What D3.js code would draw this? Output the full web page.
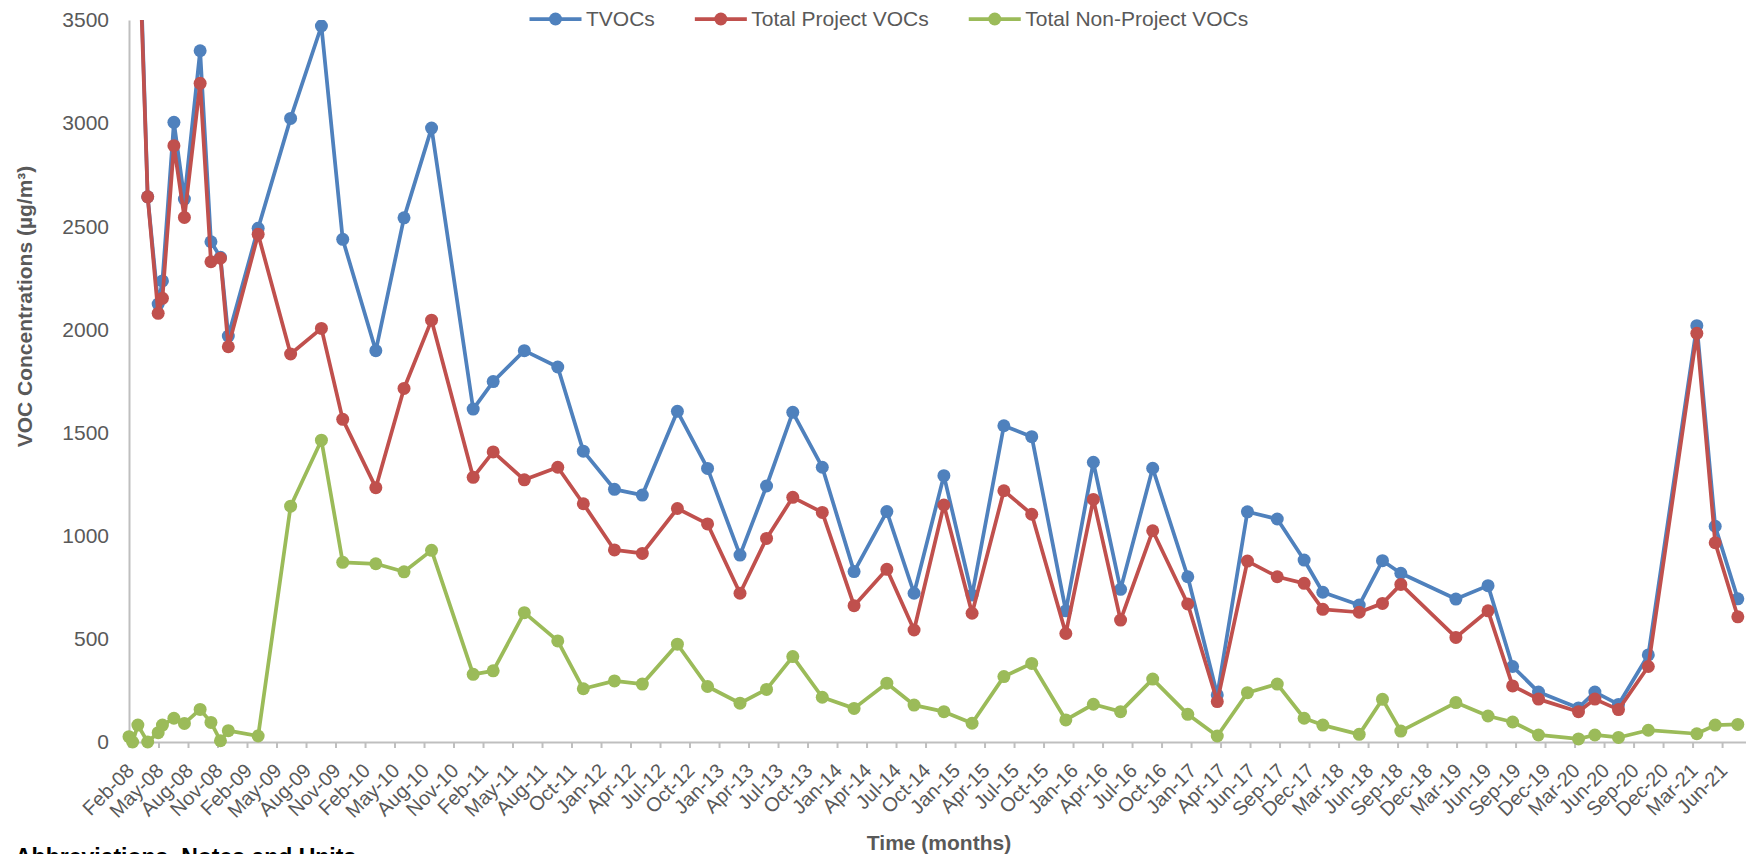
<!DOCTYPE html>
<html><head><meta charset="utf-8">
<script src="https://cdn.jsdelivr.net/npm/d3@7"></script>
<style>
html,body{margin:0;padding:0;background:#fff;}
svg{display:block;font-family:"Liberation Sans",Arial,Helvetica,sans-serif;}
</style></head><body>
<svg id="chart" width="1746" height="854"></svg>
<script>
// ---------- DATA ----------
const sampleDates = [
 "2008-02-18","2008-02-29","2008-03-16","2008-04-15","2008-05-17","2008-05-30","2008-07-04","2008-08-05","2008-09-22","2008-10-25",
 "2008-11-23","2008-12-17","2009-03-18","2009-06-25","2009-09-27","2009-12-01","2010-03-12","2010-06-06","2010-08-29","2011-01-03",
 "2011-03-05","2011-06-08","2011-09-18","2011-12-05","2012-03-09","2012-06-02","2012-09-17","2012-12-18","2013-03-27","2013-06-16",
 "2013-09-04","2013-12-03","2014-03-10","2014-06-18","2014-09-09","2014-12-09","2015-03-05","2015-06-10","2015-09-03","2015-12-16",
 "2016-03-09","2016-05-31","2016-09-06","2016-12-22","2017-03-22","2017-06-22","2017-09-21","2017-12-12","2018-02-07","2018-05-29",
 "2018-08-08","2018-10-03","2019-03-20","2019-06-26","2019-09-09","2019-11-27","2020-03-28","2020-05-17","2020-07-28","2020-10-27",
 "2021-03-24","2021-05-19","2021-07-27"
];
const tvocs = [
 5426,4800,4152,2643,2123,2235,3004,2632,3351,2425,
 2350,1968,2490,3023,3471,2437,1897,2541,2976,1614,
 1747,1897,1818,1410,1225,1197,1603,1326,906,1241,
 1598,1332,826,1117,721,1291,712,1533,1480,636,
 1356,740,1327,801,228,1116,1081,882,726,664,
 879,818,693,758,366,242,165,242,182,422,
 2018,1046,694
];
const projectVOCs = [
 5400,4800,4070,2643,2078,2151,2891,2543,3193,2328,
 2345,1916,2461,1881,2005,1564,1233,1714,2045,1283,
 1406,1271,1332,1155,931,914,1132,1057,721,987,
 1186,1113,661,837,543,1149,624,1218,1104,526,
 1176,591,1024,669,196,877,801,769,643,629,
 672,764,507,636,272,208,147,208,157,366,
 1981,966,607
];
const nonProjectVOCs = [
 26,0,82,0,45,82,115,90,158,95,
 6,55,29,1143,1463,871,864,825,929,328,
 345,627,490,258,296,281,474,269,188,255,
 414,217,163,285,179,147,91,317,381,107,
 183,147,305,134,29,239,281,115,82,37,
 207,53,191,126,97,34,15,34,22,57,
 40,82,85
];
const seriesNames = ["TVOCs","Total Project VOCs","Total Non-Project VOCs"];
const seriesColors = ["#4F81BD","#C0504D","#9BBB59"];
const tickLabels = [
 "Feb-08","May-08","Aug-08","Nov-08","Feb-09","May-09","Aug-09","Nov-09","Feb-10","May-10","Aug-10","Nov-10",
 "Feb-11","May-11","Aug-11","Oct-11","Jan-12","Apr-12","Jul-12","Oct-12","Jan-13","Apr-13","Jul-13","Oct-13",
 "Jan-14","Apr-14","Jul-14","Oct-14","Jan-15","Apr-15","Jul-15","Oct-15","Jan-16","Apr-16","Jul-16","Oct-16",
 "Jan-17","Apr-17","Jun-17","Sep-17","Dec-17","Mar-18","Jun-18","Sep-18","Dec-18","Mar-19","Jun-19","Sep-19",
 "Dec-19","Mar-20","Jun-20","Sep-20","Dec-20","Mar-21","Jun-21"
];
const axisStart = "2008-02-18";
const axisEnd = "2021-08-21";
const tickStepDays = 90;
const yTicks = [0,500,1000,1500,2000,2500,3000,3500];
const yMax = 3500;

// ---------- LAYOUT ----------
const W = 1746, H = 854;
const plot = {left:129, right:1746, top:20, bottom:742};
const parse = d3.utcParse("%Y-%m-%d");
const x = d3.scaleUtc().domain([parse(axisStart), parse(axisEnd)]).range([plot.left, plot.right]);
const y = d3.scaleLinear().domain([0, yMax]).range([plot.bottom, plot.top]);
const svg = d3.select("#chart");
const FONT_GRAY = "#595959", AXIS_GRAY = "#BFBFBF";

svg.append("defs").append("clipPath").attr("id","clip")
  .append("rect").attr("x",0).attr("y",plot.top).attr("width",W).attr("height",H-plot.top);

// X axis
const tickDates = tickLabels.map((l,i)=>d3.utcDay.offset(parse(axisStart), i*tickStepDays));
const xAxis = d3.axisBottom(x).tickValues(tickDates).tickSizeInner(6).tickSizeOuter(0)
  .tickFormat((d,i)=>tickLabels[i]);
const gx = svg.append("g").attr("transform",`translate(0,${plot.bottom})`).call(xAxis);
gx.select(".domain").attr("stroke",AXIS_GRAY).attr("stroke-width",2);
gx.selectAll(".tick line").attr("stroke",AXIS_GRAY).attr("stroke-width",2);
gx.selectAll(".tick text")
  .attr("x",0).attr("y",0).attr("dy","0.35em")
  .attr("text-anchor","end")
  .attr("transform","translate(1,25) rotate(-45)")
  .attr("font-size",20).attr("fill",FONT_GRAY).attr("font-family",null);

// Y axis
const yAxis = d3.axisLeft(y).tickValues(yTicks).tickSize(0).tickPadding(20).tickFormat(d3.format("d"));
const gy = svg.append("g").attr("transform",`translate(${plot.left},0)`).call(yAxis);
gy.select(".domain").attr("stroke",AXIS_GRAY).attr("stroke-width",2);
gy.selectAll(".tick text").attr("font-size",21).attr("fill",FONT_GRAY).attr("font-family",null);

// Series
const seriesData = [tvocs, projectVOCs, nonProjectVOCs].map((vals,si)=>({
  name: seriesNames[si], color: seriesColors[si],
  points: sampleDates.map((d,i)=>({date: parse(d), v: vals[i]}))
}));
const line = d3.line().x(d=>x(d.date)).y(d=>y(d.v));
const gs = svg.append("g").attr("clip-path","url(#clip)");
seriesData.forEach(s=>{
  const g = gs.append("g");
  g.append("path").datum(s.points).attr("d",line)
    .attr("fill","none").attr("stroke",s.color).attr("stroke-width",3.75).attr("stroke-linejoin","round");
  g.selectAll("circle").data(s.points).join("circle")
    .attr("cx",d=>x(d.date)).attr("cy",d=>y(d.v)).attr("r",6.5).attr("fill",s.color);
});

// Legend
const leg = svg.append("g");
let lx = 529.5; const ly = 19;
seriesData.forEach(s=>{
  const g = leg.append("g");
  g.append("line").attr("x1",lx).attr("x2",lx+52).attr("y1",ly).attr("y2",ly)
    .attr("stroke",s.color).attr("stroke-width",3.75);
  g.append("circle").attr("cx",lx+26).attr("cy",ly).attr("r",6.5).attr("fill",s.color);
  const t = g.append("text").attr("x",lx+56.5).attr("y",ly).attr("dy","0.35em")
    .attr("font-size",21).attr("fill",FONT_GRAY).text(s.name);
  lx = lx + 56.5 + t.node().getComputedTextLength() + 40;
});

// Titles
svg.append("text").attr("transform","translate(32,306.5) rotate(-90)")
  .attr("text-anchor","middle").attr("font-size",21).attr("font-weight","bold").attr("fill",FONT_GRAY)
  .text("VOC Concentrations (µg/m³)");
svg.append("text").attr("x",939).attr("y",850).attr("text-anchor","middle")
  .attr("font-size",21).attr("font-weight","bold").attr("fill",FONT_GRAY).text("Time (months)");
svg.append("text").attr("x",15).attr("y",865)
  .attr("font-size",23).attr("font-weight","bold").attr("fill","#000").text("Abbreviations, Notes and Units");
</script>
</body></html>
